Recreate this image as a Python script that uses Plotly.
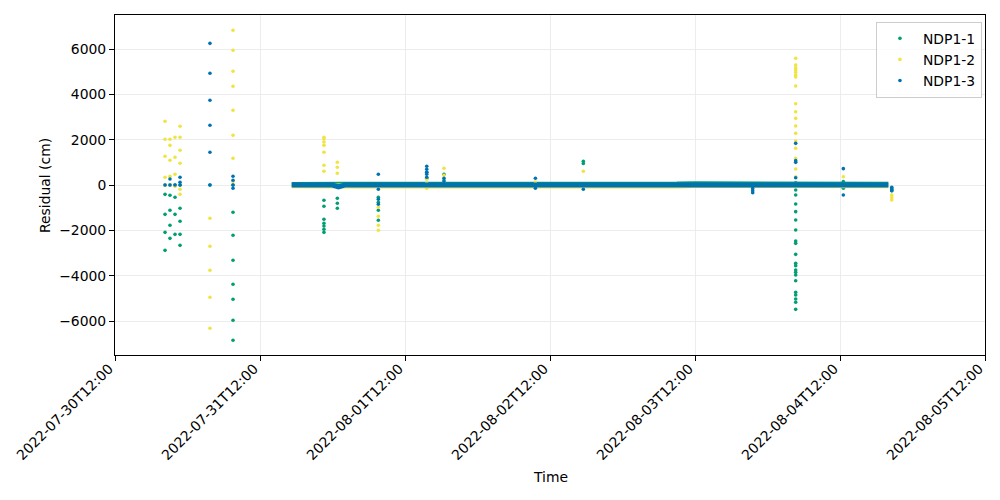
import plotly.graph_objects as go

# ---------------- data ----------------
x_tick_vals = ["2022-07-30T12:00", "2022-07-31T12:00", "2022-08-01T12:00", "2022-08-02T12:00",
               "2022-08-03T12:00", "2022-08-04T12:00", "2022-08-05T12:00"]
x_tick_text = ["2022-07-30T12:00", "2022-07-31T12:00", "2022-08-01T12:00", "2022-08-02T12:00",
               "2022-08-03T12:00", "2022-08-04T12:00", "2022-08-05T12:00"]
y_tick_vals = [-6000, -4000, -2000, 0, 2000, 4000, 6000]
y_tick_text = ["\u22126000", "\u22124000", "\u22122000", "0", "2000", "4000", "6000"]

series_names = ["NDP1-1", "NDP1-2", "NDP1-3"]
series_colors = ["#009E73", "#F0E442", "#0072B2"]

# dense near-zero band of each series (knots along the band)
band_times = ["2022-07-31T17:15", "2022-08-01T00:00", "2022-08-01T01:00", "2022-08-01T02:00",
              "2022-08-03T09:00", "2022-08-03T12:00", "2022-08-04T20:00"]
band_ndp1_1 = [20, 30, 0, 30, 40, 60, 30]
band_ndp1_2 = [-30, -40, -60, -40, -40, -20, -30]
band_ndp1_3 = [0, 0, -80, 0, 0, 0, 0]

# outliers: NDP1-1
t_ndp1_1 = (["2022-07-30T20:17"] * 5 + ["2022-07-30T21:06"] * 5 + ["2022-07-30T21:56"] * 4 +
            ["2022-07-30T22:46"] * 5 + ["2022-07-31T03:43"] + ["2022-07-31T07:32"] * 8 +
            ["2022-07-31T22:35"] * 7 + ["2022-08-01T00:48"] * 3 + ["2022-08-01T07:35"] * 4 +
            ["2022-08-01T15:36"] * 2 + ["2022-08-01T18:27"] * 2 + ["2022-08-02T17:31"] * 2 +
            ["2022-08-04T04:40"] * 21 + ["2022-08-04T12:33"] * 2 + ["2022-08-04T20:34"] * 2)
v_ndp1_1 = ([0, -412, -1294, -2088, -2882] +
            [0, -455, -1116, -1778, -2353] +
            [0, -543, -1294, -2177] +
            [0, -1029, -1602, -2177, -2662] +
            [0] +
            [0, -1204, -2219, -3322, -4380, -5043, -5970, -6851] +
            [-675, -940, -1513, -1690, -1809, -1954, -2088] +
            [-587, -807, -1029] +
            [-543, -763, -1116, -1557] +
            [560, 300] +
            [472, 200] +
            [1050, 950] +
            [100, -221, -441, -838, -1176, -1544, -1985, -2470, -2574, -3059, -3456, -3559,
             -3750, -3853, -3971, -4221, -4735, -4853, -5029, -5176, -5485] +
            [147, -146] +
            [-150, -250])

# outliers: NDP1-2
t_ndp1_2 = (["2022-07-30T20:17"] * 5 + ["2022-07-30T21:06"] * 5 + ["2022-07-30T21:56"] * 4 +
            ["2022-07-30T22:46"] * 6 + ["2022-07-31T03:43"] * 5 + ["2022-07-31T07:32"] * 8 +
            ["2022-07-31T22:35"] * 7 + ["2022-08-01T00:48"] * 3 + ["2022-08-01T07:35"] * 4 +
            ["2022-08-01T15:36"] * 3 + ["2022-08-01T18:27"] * 3 + ["2022-08-02T09:35"] +
            ["2022-08-02T17:31"] + ["2022-08-04T04:40"] * 19 + ["2022-08-04T12:33"] +
            ["2022-08-04T20:34"] * 3)
v_ndp1_2 = ([2810, 2016, 1266, 340, 0] +
            [2016, 1750, 1090, 384, 0] +
            [2104, 1222, 472, -59] +
            [2590, 2104, 1530, 957, -190, -412] +
            [-1469, -2704, -3763, -4954, -6322] +
            [6825, 5943, 5016, 4354, 3296, 2193, 1178, 150] +
            [2104, 2029, 1897, 1750, 1443, 869, 604] +
            [1001, 781, 516] +
            [-984, -1381, -1778, -1998] +
            [251, 75, -146] +
            [737, 428, 100] +
            [132] +
            [604] +
            [5590, 5294, 5176, 5073, 4971, 4853, 4765, 4368, 3587, 3234, 2941, 2603, 2279,
             1941, 1619, 1178, 1029, 706, 366] +
            [366] +
            [-440, -550, -660])

# outliers: NDP1-3
t_ndp1_3 = (["2022-07-30T20:17"] + ["2022-07-30T21:06"] * 2 + ["2022-07-30T21:56"] +
            ["2022-07-30T22:46"] * 3 + ["2022-07-31T03:43"] * 6 + ["2022-07-31T07:32"] * 4 +
            ["2022-08-01T07:35"] * 4 + ["2022-08-01T15:36"] * 5 + ["2022-08-01T18:27"] * 2 +
            ["2022-08-02T09:35"] * 2 + ["2022-08-02T17:31"] + ["2022-08-03T21:33"] * 3 +
            ["2022-08-04T04:40"] * 4 + ["2022-08-04T12:33"] * 2 + ["2022-08-04T20:34"] * 3)
v_ndp1_3 = ([0] +
            [265, 0] +
            [0] +
            [340, 119, 0] +
            [6250, 4928, 3737, 2634, 1443, 0] +
            [384, 207, 0, -146] +
            [472, -190, -631, -851] +
            [825, 693, 560, 472, 340] +
            [300, 130] +
            [295, -146] +
            [-190] +
            [-150, -250, -340] +
            [1838, 1074, 1000, 322] +
            [721, -441] +
            [-100, -210, -250])

bands = [band_ndp1_1, band_ndp1_2, band_ndp1_3]
out_t = [t_ndp1_1, t_ndp1_2, t_ndp1_3]
out_v = [v_ndp1_1, v_ndp1_2, v_ndp1_3]

# ---------------- figure ----------------
FONT = "DejaVu Sans"
FS = 13.9
fig = go.Figure()

for name, col, band, tt, vv in zip(series_names, series_colors, bands, out_t, out_v):
    fig.add_trace(go.Scatter(x=band_times, y=band, mode="lines",
                             line=dict(color=col, width=5), showlegend=False,
                             hoverinfo="skip"))
    fig.add_trace(go.Scatter(x=tt, y=vv, mode="markers", name=name,
                             marker=dict(color=col, size=3.6, line=dict(width=0))))

fig.update_layout(
    width=1000, height=500,
    margin=dict(l=115, r=15, t=15, b=145),
    paper_bgcolor="white", plot_bgcolor="white",
    font=dict(family=FONT, size=FS, color="black"),
    legend=dict(x=0.9965, y=0.98, xanchor="right", yanchor="top",
                bgcolor="rgba(255,255,255,0.8)", bordercolor="#cccccc", borderwidth=1,
                font=dict(family=FONT, size=FS, color="black"),
                itemsizing="trace", tracegroupgap=0, itemwidth=36),
    showlegend=True,
)

fig.update_xaxes(
    type="date",
    range=["2022-07-30T12:00", "2022-08-05T12:00"],
    tickvals=x_tick_vals, ticktext=x_tick_text, tickangle=-45,
    ticklabelshift=-6, ticklabelstandoff=-6,
    showgrid=True, gridcolor="#ececec", gridwidth=1,
    showline=True, linecolor="black", linewidth=1, mirror=True,
    ticks="outside", ticklen=5, tickcolor="black",
    zeroline=False, automargin=False,
    tickfont=dict(family=FONT, size=FS, color="black"),
)
fig.update_yaxes(
    range=[-7500, 7500],
    tickvals=y_tick_vals, ticktext=y_tick_text,
    showgrid=True, gridcolor="#ececec", gridwidth=1,
    showline=True, linecolor="black", linewidth=1, mirror=True,
    ticks="outside", ticklen=5, tickcolor="black",
    zeroline=False, automargin=False,
    tickfont=dict(family=FONT, size=FS, color="black"),
)

fig.add_annotation(text="Residual (cm)", xref="paper", yref="paper",
                   x=-0.0805, y=0.5, xanchor="center", yanchor="middle",
                   textangle=-90, showarrow=False,
                   font=dict(family=FONT, size=FS, color="black"))
fig.add_annotation(text="Time", xref="paper", yref="paper",
                   x=0.5, y=-0.359, xanchor="center", yanchor="middle",
                   showarrow=False, font=dict(family=FONT, size=FS, color="black"))

fig.write_html("out.html")
